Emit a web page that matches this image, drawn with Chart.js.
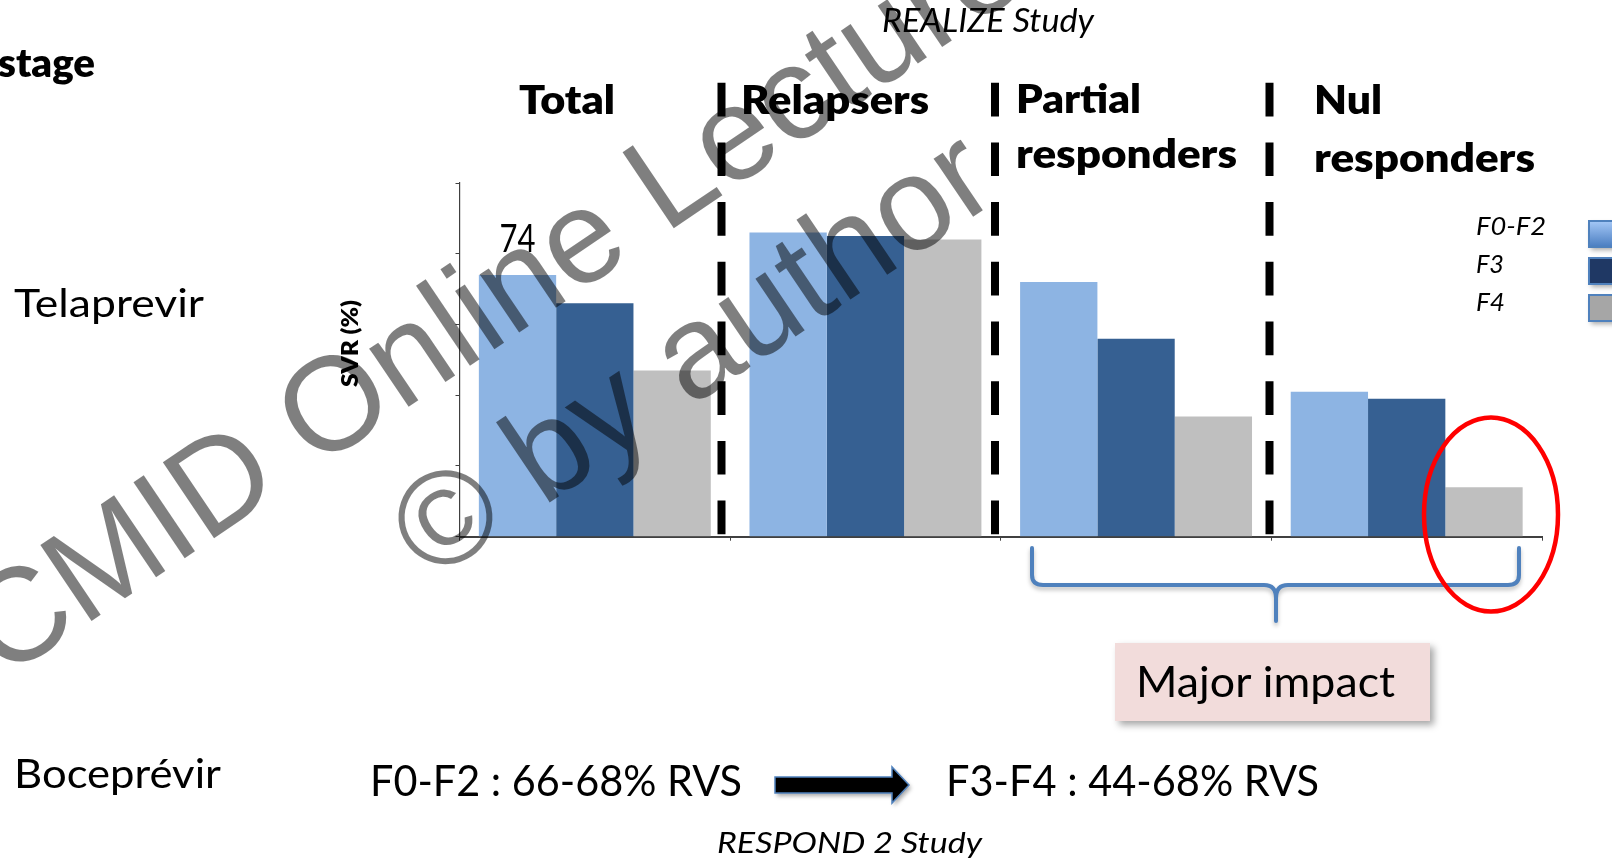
<!DOCTYPE html>
<html>
<head>
<meta charset="utf-8">
<script src="https://cdn.jsdelivr.net/npm/chart.js@4.4.1/dist/chart.umd.min.js"></script>
<style>
  html, body { margin: 0; padding: 0; background: #ffffff; overflow: hidden; }
  #wrap { width: 1612px; height: 860px; position: relative; }
  canvas { display: block; }
</style>
</head>
<body>
<div id="wrap"><canvas id="chart" width="1612" height="860"></canvas></div>
<script>
// SVR (%) by fibrosis stage and prior treatment response (REALIZE study)
const categories = ['Total', 'Relapsers', 'Partial responders', 'Nul responders'];
const stages = ['F0-F2', 'F3', 'F4'];
const svrF0F2 = [74, 86, 72, 41];
const svrF3 = [66, 85, 56, 39];
const svrF4 = [47, 84, 34, 14];
const yTicks = [0, 20, 40, 60, 80, 100];
const valueLabels = [{ series: 0, index: 0 }];

const barColors = ['#8db4e3', '#366092', '#bfbfbf'];

// Draw a string stretched/condensed to a given ink width
function drawText(ctx, str, x, y, font, width, opts) {
  opts = opts || {};
  ctx.save();
  ctx.font = font;
  ctx.fillStyle = opts.color || '#000000';
  ctx.textBaseline = 'alphabetic';
  ctx.textAlign = 'left';
  const w = ctx.measureText(str).width;
  const sx = width ? width / w : 1;
  ctx.translate(x, y);
  if (opts.rotate) ctx.rotate(opts.rotate);
  ctx.scale(sx, 1);
  ctx.fillText(str, opts.center ? -w / 2 : 0, 0);
  ctx.restore();
}

const titleLayout = {
  x: [519, 741, 1016, 1314],
  baselines: [[114], [114], [113, 168], [114, 172]],
  widths: { 'Total': 96, 'Relapsers': 188, 'Partial': 125, 'responders': 221, 'Nul': 68 }
};
const titleFont = '800 40px Lato';

const slidePlugin = {
  id: 'slide',
  beforeDraw(chart) {
    const ctx = chart.ctx;
    ctx.save();
    ctx.fillStyle = '#ffffff';
    ctx.fillRect(0, 0, chart.width, chart.height);
    ctx.restore();
  },
  afterDatasetsDraw(chart) {
    const ctx = chart.ctx;
    valueLabels.forEach(v => {
      const bar = chart.getDatasetMeta(v.series).data[v.index];
      const val = chart.data.datasets[v.series].data[v.index];
      drawText(ctx, String(val), bar.x, bar.y - 23, '38px Lato', 36, { center: true });
    });
  },
  afterDraw(chart) {
    const ctx = chart.ctx;

    // separators between response groups
    ctx.save();
    ctx.strokeStyle = '#000000';
    ctx.lineWidth = 8;
    ctx.lineCap = 'butt';
    ctx.setLineDash([33.7, 26]);
    [721.5, 995, 1269.5].forEach(x => {
      ctx.beginPath();
      ctx.moveTo(x, 82.7);
      ctx.lineTo(x, 535);
      ctx.stroke();
    });
    ctx.restore();

    // headings
    drawText(ctx, 'stage', -2, 77, titleFont, 97);
    drawText(ctx, 'REALIZE Study', 882, 32, 'italic 32px Lato', 212);
    drawText(ctx, 'Telaprevir', 14, 317, '38px Lato', 190);
    categories.forEach((name, i) => {
      name.split(' ').forEach((word, j) => {
        drawText(ctx, word, titleLayout.x[i], titleLayout.baselines[i][j], titleFont, titleLayout.widths[word]);
      });
    });

    // y axis title
    drawText(ctx, 'SVR (%)', 358, 387, '800 23px Lato', 87, { rotate: -Math.PI / 2 });

    // legend: label then swatch
    const legendBase = [235, 273, 311];
    const legendW = [70, 28, 29];
    const swatchY = [221, 258, 295];
    chart.data.datasets.forEach((ds, i) => {
      drawText(ctx, ds.label, 1476, legendBase[i], 'italic 25px Lato', legendW[i]);
      ctx.save();
      ctx.shadowColor = 'rgba(0,0,0,0.35)';
      ctx.shadowBlur = 5;
      ctx.shadowOffsetX = 2;
      ctx.shadowOffsetY = 3;
      let fill;
      if (i === 0) {
        fill = ctx.createLinearGradient(0, swatchY[i], 0, swatchY[i] + 26);
        fill.addColorStop(0, '#a5c8f7');
        fill.addColorStop(1, '#4a7dc0');
      } else if (i === 1) {
        fill = '#1f3864';
      } else {
        fill = '#a6a6a6';
      }
      ctx.fillStyle = fill;
      ctx.fillRect(1589, swatchY[i], 40, 26);
      ctx.restore();
      ctx.save();
      ctx.strokeStyle = '#4f81bd';
      ctx.lineWidth = 2;
      ctx.strokeRect(1589, swatchY[i], 40, 26);
      ctx.restore();
    });

    // brace under partial / nul responders
    ctx.save();
    ctx.strokeStyle = '#4f81bd';
    ctx.lineWidth = 4;
    ctx.lineJoin = 'round';
    ctx.lineCap = 'round';
    ctx.shadowColor = 'rgba(0,0,0,0.25)';
    ctx.shadowBlur = 4;
    ctx.shadowOffsetY = 3;
    ctx.beginPath();
    ctx.moveTo(1032, 548);
    ctx.lineTo(1032, 575);
    ctx.quadraticCurveTo(1032, 585, 1043, 585);
    ctx.lineTo(1264, 585);
    ctx.quadraticCurveTo(1276, 585, 1276, 598);
    ctx.lineTo(1276, 621);
    ctx.moveTo(1276, 598);
    ctx.quadraticCurveTo(1276, 585, 1288, 585);
    ctx.lineTo(1508, 585);
    ctx.quadraticCurveTo(1519, 585, 1519, 575);
    ctx.lineTo(1519, 548);
    ctx.stroke();
    ctx.restore();

    // highlight ring around null responders F4
    ctx.save();
    ctx.strokeStyle = '#ff0000';
    ctx.lineWidth = 4.5;
    ctx.beginPath();
    ctx.ellipse(1491, 514.5, 67, 97, 0, 0, Math.PI * 2);
    ctx.stroke();
    ctx.restore();

    // callout box
    ctx.save();
    ctx.shadowColor = 'rgba(0,0,0,0.35)';
    ctx.shadowBlur = 7;
    ctx.shadowOffsetX = 4;
    ctx.shadowOffsetY = 4;
    ctx.fillStyle = '#f2dcdb';
    ctx.fillRect(1115, 643, 315, 78);
    ctx.restore();
    drawText(ctx, 'Major impact', 1136, 697, '42px Lato', 259);

    // boceprevir row
    drawText(ctx, 'Boceprévir', 14, 788, '40px Lato', 207);
    drawText(ctx, 'F0-F2 : 66-68% RVS', 370, 796, '42px Lato', 372);
    drawText(ctx, 'F3-F4 : 44-68% RVS', 946, 796, '42px Lato', 373);
    drawText(ctx, 'RESPOND 2 Study', 717, 853, 'italic 29px Lato', 265);

    const arrow = [[775, 777], [892, 777], [892, 767], [909, 785], [892, 803], [892, 793], [775, 793]];
    const arrowPath = () => {
      ctx.beginPath();
      arrow.forEach((p, k) => (k ? ctx.lineTo(p[0], p[1]) : ctx.moveTo(p[0], p[1])));
      ctx.closePath();
    };
    ctx.save();
    ctx.shadowColor = 'rgba(0,0,0,0.35)';
    ctx.shadowBlur = 4;
    ctx.shadowOffsetX = 2;
    ctx.shadowOffsetY = 3;
    arrowPath();
    ctx.fillStyle = '#000000';
    ctx.fill();
    ctx.restore();
    ctx.save();
    arrowPath();
    ctx.strokeStyle = '#4f81bd';
    ctx.lineWidth = 1.5;
    ctx.stroke();
    ctx.restore();

    // watermark
    ctx.save();
    ctx.translate(628, 259);
    ctx.rotate(-34 * Math.PI / 180);
    ctx.font = '133px "Liberation Sans"';
    ctx.fillStyle = 'rgba(0,0,0,0.5)';
    ctx.textAlign = 'center';
    ctx.textBaseline = 'alphabetic';
    ctx.fillText('ESCMID Online Lecture Library', 0, 0);
    ctx.fillText('\u00A9 by author', 0, 158);
    ctx.restore();
  }
};

function build() {
  const datasets = [svrF0F2, svrF3, svrF4].map((vals, i) => ({
    label: stages[i],
    data: vals,
    backgroundColor: barColors[i],
    borderWidth: 0,
    barPercentage: 1.0,
    categoryPercentage: 0.857
  }));

  new Chart(document.getElementById('chart'), {
    type: 'bar',
    data: { labels: categories, datasets: datasets },
    options: {
      responsive: false,
      animation: false,
      layout: { padding: { left: 455.5, right: 70, top: 183, bottom: 319.3 } },
      plugins: { legend: { display: false }, tooltip: { enabled: false } },
      scales: {
        x: {
          type: 'category',
          offset: true,
          ticks: { display: false },
          grid: { display: true, offset: true, drawOnChartArea: false, drawTicks: true, tickLength: 4, color: '#404040', lineWidth: 1 },
          border: { display: true, color: '#404040', width: 2 },
          afterFit: s => { s.height = 4; }
        },
        y: {
          min: yTicks[0],
          max: yTicks[yTicks.length - 1],
          ticks: { display: false, stepSize: yTicks[1] - yTicks[0] },
          grid: { display: true, drawOnChartArea: false, drawTicks: true, tickLength: 4, color: '#404040', lineWidth: 1 },
          border: { display: true, color: '#404040', width: 1.2 },
          afterFit: s => { s.width = 4; }
        }
      }
    },
    plugins: [slidePlugin]
  });
}

const fontLoads = [
  '800 40px Lato', '40px Lato', 'italic 30px Lato', '133px "Liberation Sans"'
].map(f => document.fonts.load(f).catch(() => null));
Promise.all(fontLoads).then(build, build);
</script>
</body>
</html>
